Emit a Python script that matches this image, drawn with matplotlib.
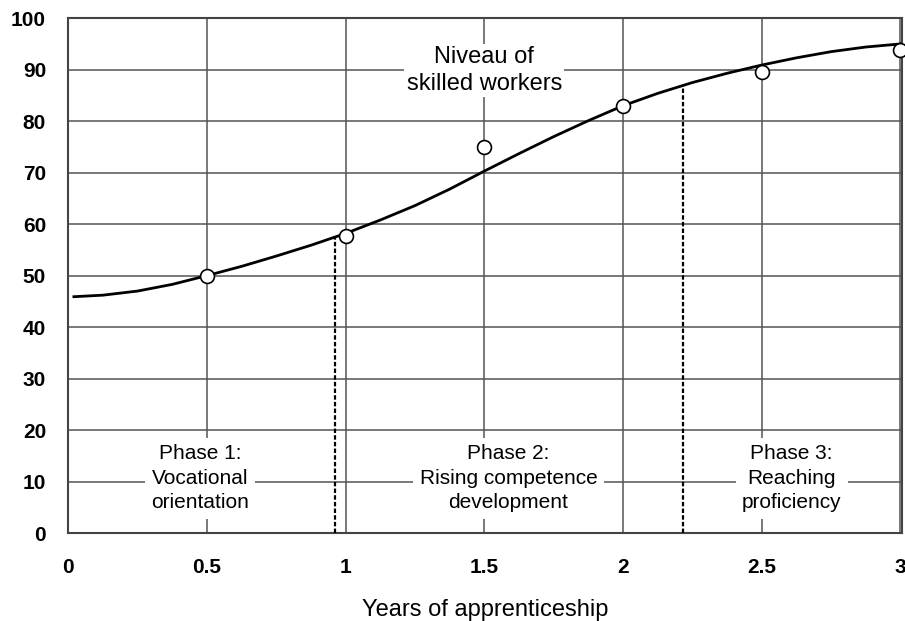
import matplotlib
matplotlib.use("Agg")
import matplotlib.pyplot as plt

plt.rcParams['font.family'] = ['Liberation Sans', 'DejaVu Sans']

# measured points (apprenticeship years vs level)
years = [0.5, 1.0, 1.5, 2.0, 2.5, 3.0]
level = [50.0, 57.7, 75.0, 83.0, 89.5, 93.8]

# trend curve
curve_x = [0.02, 0.125, 0.25, 0.375, 0.5, 0.625, 0.75, 0.875, 1.0, 1.125, 1.25,
           1.375, 1.5, 1.625, 1.75, 1.875, 2.0, 2.125, 2.25, 2.375, 2.5, 2.625,
           2.75, 2.875, 3.0]
curve_y = [45.9, 46.2, 47.0, 48.3, 50.0, 51.8, 53.8, 55.9, 58.2, 60.8, 63.6,
           66.8, 70.3, 73.7, 77.0, 80.1, 83.0, 85.4, 87.5, 89.3, 90.9, 92.3,
           93.5, 94.4, 95.0]

# phase borders (x, curve height)
border_x = [0.96, 2.215]
border_y = [57.6, 87.1]

phase_labels = ["Phase 1:\nVocational\norientation",
                "Phase 2:\nRising competence\ndevelopment",
                "Phase 3:\nReaching\nproficiency"]
phase_x = [0.475, 1.587, 2.608]
phase_y = 10.6

xticks = [0, 0.5, 1, 1.5, 2, 2.5, 3]
xticklabels = ["0", "0.5", "1", "1.5", "2", "2.5", "3"]
yticks = list(range(0, 101, 10))

fig = plt.figure(figsize=(9.05, 6.21), dpi=100)
ax = fig.add_axes([0.0755, 0.1417, 0.921, 0.829])

ax.set_xlim(0, 3.005)
ax.set_ylim(0, 100)
ax.set_xticks(xticks)
ax.set_xticklabels(xticklabels)
ax.set_yticks(yticks)
ax.tick_params(length=0, labelsize=15, pad=18)
ax.tick_params(axis='y', pad=16)
for lab in ax.get_xticklabels() + ax.get_yticklabels():
    lab.set_fontweight('bold')

ax.grid(True, color='#555555', linewidth=1.1, zorder=0)
ax.set_axisbelow(True)
for sp in ax.spines.values():
    sp.set_color('#444444')
    sp.set_linewidth(1.5)

ax.plot(curve_x, curve_y, color='black', linewidth=2.0, zorder=3)
for bx, by in zip(border_x, border_y):
    ax.plot([bx, bx], [0, by], color='black', linestyle=(0, (2, 1)),
            linewidth=1.6, zorder=3)
ax.plot(years, level, 'o', markersize=10, markerfacecolor='white',
        markeredgecolor='black', markeredgewidth=1.2, zorder=4, clip_on=False)

for lab, px in zip(phase_labels, phase_x):
    ax.text(px, phase_y, lab, ha='center', va='center', fontsize=15,
            linespacing=1.37, zorder=2,
            bbox=dict(boxstyle='square,pad=0.3', facecolor='white', edgecolor='none'))

ax.text(1.5, 89.8, "Niveau of\nskilled workers", ha='center', va='center',
        fontsize=17, linespacing=1.27, zorder=2,
        bbox=dict(boxstyle='square,pad=0.1', facecolor='white', edgecolor='none'))

ax.set_xlabel("Years of apprenticeship", fontsize=17, va='baseline')
ax.xaxis.set_label_coords(0.5, -0.161)

fig.savefig("out.png", dpi=100)
